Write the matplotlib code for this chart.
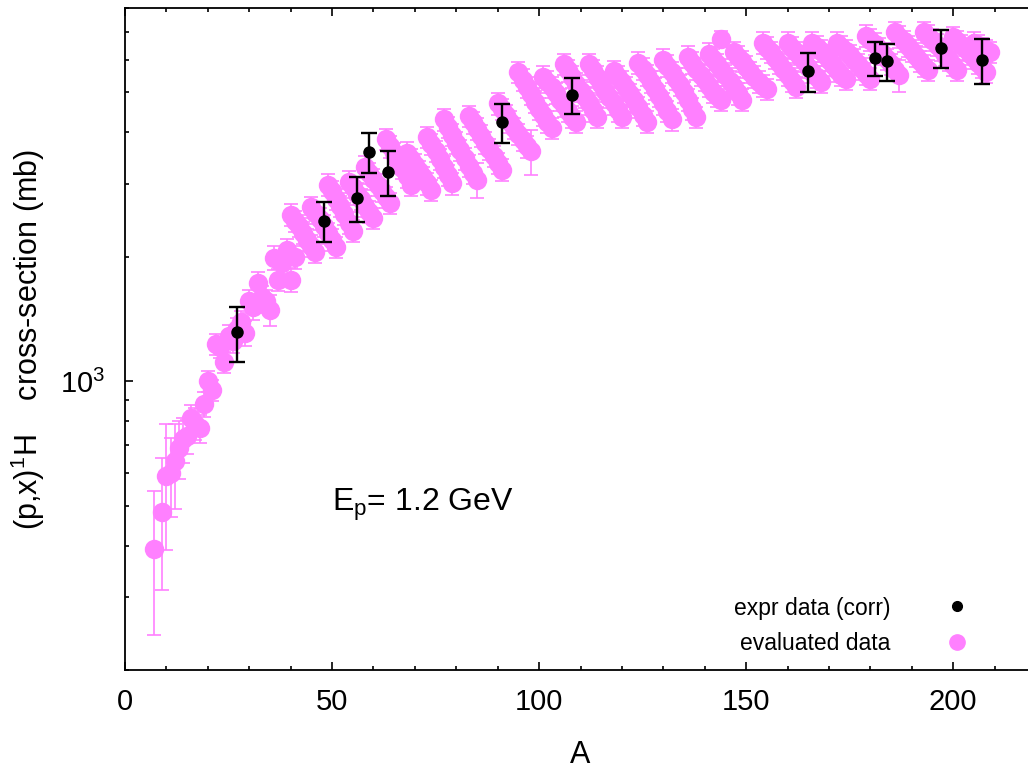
import matplotlib
matplotlib.use('Agg')
import matplotlib.pyplot as plt
from matplotlib.lines import Line2D
from matplotlib.ticker import FixedLocator, MultipleLocator

plt.rcParams['font.family'] = ['Liberation Sans', 'DejaVu Sans']
plt.rcParams['mathtext.fontset'] = 'custom'
plt.rcParams['mathtext.rm'] = 'Liberation Sans'
plt.rcParams['mathtext.it'] = 'Liberation Sans'

# evaluated data: mass number, cross-section (mb), error (mb)
# light nuclei, then one row per element (isotopes in increasing A)
A_eval = [7, 9, 10, 11, 12, 13, 14, 15, 16, 17, 18, 19, 20, 21, 22, 23,
          24, 25, 26, 27, 28, 29, 30, 31, 32, 33, 34, 35, 36, 37, 38, 39, 40, 41,
          40, 41, 42, 43, 44, 45, 46,
          45, 46, 47, 48, 49, 50, 51,
          49, 50, 51, 52, 53, 54, 55,
          54, 55, 56, 57, 58, 59, 60,
          58, 59, 60, 61, 62, 63, 64,
          63, 64, 65, 66, 67, 68, 69,
          68, 69, 70, 71, 72, 73, 74,
          73, 74, 75, 76, 77, 78, 79,
          77, 78, 79, 80, 81, 82, 83, 84, 85,
          83, 84, 85, 86, 87, 88, 89, 90, 91,
          90, 91, 92, 93, 94, 95, 96, 97, 98,
          95, 96, 97, 98, 99, 100, 101, 102, 103,
          101, 102, 103, 104, 105, 106, 107, 108, 109,
          106, 107, 108, 109, 110, 111, 112, 113, 114,
          112, 113, 114, 115, 116, 117, 118, 119, 120,
          118, 119, 120, 121, 122, 123, 124, 125, 126,
          124, 125, 126, 127, 128, 129, 130, 131, 132,
          130, 131, 132, 133, 134, 135, 136, 137, 138,
          136, 137, 138, 139, 140, 141, 142, 143, 144,
          144,
          141, 142, 143, 144, 145, 146, 147, 148, 149,
          147, 148, 149, 150, 151, 152, 153, 154, 155,
          154, 155, 156, 157, 158, 159, 160, 161, 162,
          160, 161, 162, 163, 164, 165, 166, 167, 168,
          166, 167, 168, 169, 170, 171, 172, 173, 174,
          172, 173, 174, 175, 176, 177, 178, 179, 180,
          179, 180, 181, 182, 183, 184, 185, 186, 187,
          186, 187, 188, 189, 190, 191, 192, 193, 194,
          193, 194, 195, 196, 197, 198, 199, 200, 201,
          200, 201, 202, 203, 204, 205, 206, 207, 208,
          205, 206, 207, 208, 209]
xs_eval = [393, 483, 590, 600, 640, 690, 725, 735, 815, 790, 770, 880, 1000, 950, 1230, 1210,
           1110, 1290, 1250, 1340, 1390, 1310, 1560, 1510, 1730, 1600, 1560, 1490, 1990, 1760, 1930, 2080, 1760, 2000,
           2530, 2440, 2380, 2290, 2200, 2130, 2050,
           2640, 2560, 2470, 2380, 2280, 2200, 2110,
           2990, 2880, 2760, 2650, 2540, 2420, 2310,
           3040, 2950, 2840, 2760, 2650, 2570, 2480,
           3300, 3190, 3080, 2990, 2880, 2790, 2700,
           3850, 3700, 3560, 3420, 3280, 3130, 2980,
           3570, 3450, 3340, 3220, 3120, 3010, 2900,
           3900, 3750, 3600, 3450, 3300, 3150, 3010,
           4300, 4120, 3950, 3780, 3620, 3460, 3320, 3190, 3070,
           4380, 4230, 4080, 3930, 3780, 3640, 3500, 3370, 3250,
           4700, 4550, 4400, 4250, 4100, 3960, 3830, 3700, 3600,
           5590, 5370, 5150, 4950, 4750, 4570, 4400, 4250, 4100,
           5460, 5300, 5150, 4980, 4800, 4650, 4500, 4370, 4250,
           5850, 5650, 5450, 5250, 5050, 4870, 4700, 4520, 4350,
           5850, 5650, 5450, 5250, 5050, 4870, 4700, 4520, 4350,
           5620, 5460, 5300, 5130, 4950, 4780, 4600, 4420, 4250,
           5900, 5700, 5500, 5300, 5100, 4900, 4700, 4500, 4300,
           6000, 5800, 5600, 5400, 5200, 5000, 4800, 4570, 4350,
           6100, 5900, 5700, 5520, 5350, 5170, 5000, 4900, 4800,
           6730,
           6200, 6020, 5850, 5670, 5500, 5320, 5150, 4970, 4800,
           6250, 6100, 5950, 5770, 5600, 5450, 5300, 5190, 5090,
           6600, 6420, 6250, 6070, 5900, 5700, 5500, 5320, 5150,
           6600, 6420, 6250, 6100, 5950, 5770, 5600, 5450, 5300,
           6600, 6450, 6300, 6150, 6000, 5820, 5650, 5520, 5400,
           6600, 6450, 6300, 6150, 6000, 5850, 5700, 5550, 5400,
           6850, 6700, 6550, 6370, 6200, 6020, 5850, 5670, 5500,
           7000, 6820, 6650, 6470, 6300, 6120, 5950, 5800, 5660,
           7000, 6850, 6700, 6520, 6350, 6170, 6000, 5830, 5660,
           6800, 6650, 6500, 6350, 6200, 6050, 5900, 5750, 5600,
           6600, 6500, 6400, 6320, 6250]
err_eval = [150, 170, 200, 130, 150, 110, 90, 70, 60, 70, 60, 60, 60, 55, 70, 70,
            65, 80, 80, 85, 90, 90, 100, 100, 110, 100, 100, 130, 130, 110, 120, 130, 120, 130,
            150, 146, 143, 137, 132, 128, 123,
            158, 154, 148, 143, 137, 132, 127,
            180, 173, 166, 159, 152, 145, 139,
            182, 177, 170, 166, 159, 154, 149,
            198, 191, 185, 179, 173, 167, 162,
            231, 222, 214, 205, 197, 188, 179,
            214, 207, 200, 193, 187, 181, 174,
            234, 225, 216, 207, 198, 189, 181,
            258, 247, 237, 227, 217, 208, 199, 191, 300,
            263, 254, 245, 236, 227, 218, 210, 202, 195,
            282, 273, 264, 255, 246, 238, 230, 222, 450,
            335, 322, 309, 297, 285, 274, 264, 255, 246,
            328, 318, 309, 299, 288, 279, 270, 262, 255,
            351, 339, 327, 315, 303, 292, 282, 271, 261,
            351, 339, 327, 315, 303, 292, 282, 271, 261,
            337, 328, 318, 308, 297, 287, 276, 265, 255,
            354, 342, 330, 318, 306, 294, 282, 270, 258,
            360, 348, 336, 324, 312, 300, 288, 274, 261,
            366, 354, 342, 331, 321, 310, 300, 294, 288,
            300,
            372, 361, 351, 340, 330, 319, 309, 298, 288,
            375, 366, 357, 346, 336, 327, 318, 311, 305,
            396, 385, 375, 364, 354, 342, 330, 319, 309,
            396, 385, 375, 366, 357, 346, 336, 327, 318,
            396, 387, 378, 369, 360, 349, 339, 331, 324,
            396, 387, 378, 369, 360, 351, 342, 333, 324,
            411, 402, 393, 382, 372, 361, 351, 340, 500,
            420, 409, 399, 388, 378, 367, 357, 348, 340,
            420, 411, 402, 391, 381, 370, 360, 350, 340,
            408, 399, 390, 381, 372, 363, 354, 345, 336,
            396, 390, 384, 379, 375]

# experimental data (corrected)
A_exp = [27, 48, 56, 59, 63.5, 91, 108, 165, 181, 184, 197, 207]
xs_exp = [1315, 2445, 2780, 3590, 3200, 4230, 4920, 5620, 6050, 5940, 6400, 5980]
err_exp = [200, 275, 345, 395, 400, 460, 490, 620, 575, 610, 660, 735]

pink = '#ff80ff'

fig = plt.figure(figsize=(10.28, 7.73), dpi=100)
ax = fig.add_axes([0.1216, 0.1332, 0.8862, 0.8564])
ax.set_yscale('log')

ax.errorbar(A_eval, xs_eval, yerr=err_eval, fmt='o', color=pink, ms=14, mec='none',
            elinewidth=1.2, capsize=5, capthick=1.2, zorder=2)
ax.errorbar(A_exp, xs_exp, yerr=err_exp, fmt='o', color='black', ms=9, mec='none',
            elinewidth=1.7, capsize=5.5, capthick=1.7, zorder=5)

ax.set_xlim(0, 220)
ax.set_ylim(200, 8000)

ax.xaxis.set_major_locator(FixedLocator([0, 50, 100, 150, 200]))
ax.xaxis.set_minor_locator(MultipleLocator(10))
ax.yaxis.set_major_locator(FixedLocator([1000]))
ax.yaxis.set_minor_locator(FixedLocator([200, 300, 400, 500, 600, 700, 800, 900,
                                         2000, 3000, 4000, 5000, 6000, 7000, 8000]))
ax.yaxis.set_minor_formatter(plt.NullFormatter())
ax.set_yticklabels(['$10^3$'])

ax.tick_params(which='both', direction='in', top=True, right=True, width=1.2, labelsize=21)
ax.tick_params(which='major', length=6)
ax.tick_params(which='minor', length=3)
ax.tick_params(axis='x', pad=13)
ax.tick_params(axis='y', pad=14)
for s in ax.spines.values():
    s.set_linewidth(1.3)

ax.set_xlabel('A', fontsize=22)
ax.set_ylabel('(p,x)$^1$H    cross-section (mb)', fontsize=22)
ax.xaxis.label.set_va('center')
ax.xaxis.set_label_coords(0.5, -0.128)
ax.yaxis.label.set_va('center')
ax.yaxis.set_label_coords(-0.1065, 0.5)

ax.text(50, 486, 'E$_\\mathrm{p}$= 1.2 GeV', fontsize=23, ha='left', va='baseline')

h1 = Line2D([], [], ls='none', marker='o', color='black', ms=7)
h2 = Line2D([], [], ls='none', marker='o', color=pink, ms=11)
leg1 = ax.legend([h1], ['expr data (corr)'], loc='center right', bbox_to_anchor=(0.9385, 0.0937),
                 frameon=False, markerfirst=False, handlelength=2, handletextpad=1.9,
                 fontsize=16.5, borderpad=0, borderaxespad=0)
ax.add_artist(leg1)
ax.legend([h2], ['evaluated data'], loc='center right', bbox_to_anchor=(0.9385, 0.0408),
          frameon=False, markerfirst=False, handlelength=2, handletextpad=1.9,
          fontsize=16.5, borderpad=0, borderaxespad=0)

fig.savefig('out.png', dpi=100)
